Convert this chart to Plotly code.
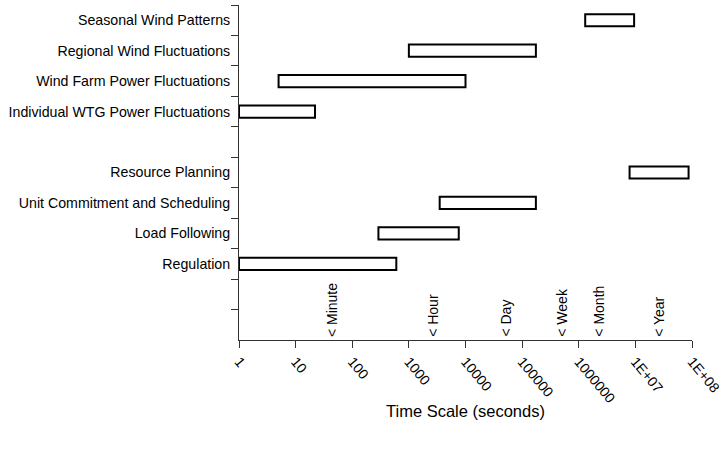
import math
import plotly.graph_objects as go

# Categories from top to bottom; blank entries leave empty rows
categories = [
    "Seasonal Wind Patterns",
    "Regional Wind Fluctuations",
    "Wind Farm Power Fluctuations",
    "Individual WTG Power Fluctuations",
    " ",
    "Resource Planning",
    "Unit Commitment and Scheduling",
    "Load Following",
    "Regulation",
    "  ",
    "   ",
]

# Time range of each phenomenon (seconds)
bar_labels = [
    "Seasonal Wind Patterns",
    "Regional Wind Fluctuations",
    "Wind Farm Power Fluctuations",
    "Individual WTG Power Fluctuations",
    "Resource Planning",
    "Unit Commitment and Scheduling",
    "Load Following",
    "Regulation",
]
start_s = [1.3e6, 1000, 5, 1, 7.9e6, 3500, 290, 1]
end_s = [9.5e6, 175000, 10000, 22, 8.7e7, 175000, 7600, 600]

# Reference time markers along the axis (seconds)
marker_names = ["Minute", "Hour", "Day", "Week", "Month", "Year"]
marker_pos = [44, 2600, 50000, 490000, 2.2e6, 2.6e7]

# Axis ticks
tick_vals = [1, 10, 100, 1000, 10000, 100000, 1000000, 1e7, 1e8]
tick_text = ["1", "10", "100", "1000", "10000", "100000", "1000000", "1E+07", "1E+08"]

FONT = "Arial, Liberation Sans, sans-serif"

fig = go.Figure()
fig.add_trace(go.Bar(
    y=bar_labels,
    base=start_s,
    x=[e - s for s, e in zip(start_s, end_s)],
    orientation="h",
    width=0.4,
    marker=dict(color="white", line=dict(color="black", width=2)),
    hoverinfo="skip",
    showlegend=False,
))

for name, pos in zip(marker_names, marker_pos):
    fig.add_annotation(
        x=math.log10(pos), xref="x",
        y=0, yref="paper",
        text="< " + name,
        textangle=-90,
        showarrow=False,
        xanchor="center", yanchor="bottom",
        yshift=1,
        font=dict(family=FONT, size=14, color="black"),
    )

fig.update_layout(
    width=724, height=451,
    margin=dict(l=239, r=32, t=5, b=111, autoexpand=False),
    paper_bgcolor="white", plot_bgcolor="white",
    font=dict(family=FONT, size=14, color="black"),
    bargap=0.6,
)

fig.update_xaxes(
    type="log",
    range=[0, 8],
    automargin=False,
    tickmode="array",
    tickvals=tick_vals,
    ticktext=tick_text,
    tickangle=50,
    ticks="outside", ticklen=7, tickcolor="#333", tickwidth=1,
    showline=True, linecolor="#333", linewidth=1,
    showgrid=False, zeroline=False,
    tickfont=dict(family=FONT, size=14, color="black"),
    title=dict(text="Time Scale (seconds)", font=dict(family=FONT, size=16.5, color="black"), standoff=0),
)

fig.update_yaxes(
    type="category",
    automargin=False,
    categoryorder="array",
    categoryarray=categories,
    range=[len(categories) - 0.5, -0.5],
    tickson="boundaries",
    ticks="outside", ticklen=7, tickcolor="#333", tickwidth=1,
    showline=True, linecolor="#333", linewidth=1,
    showgrid=False, zeroline=False,
    ticklabelstandoff=5,
    tickfont=dict(family=FONT, size=14.2, color="black"),
)

fig.write_html("out.html")
